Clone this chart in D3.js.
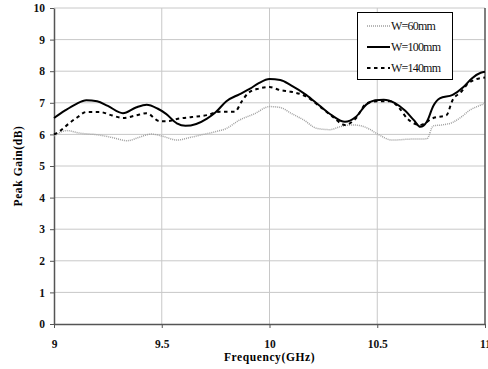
<!DOCTYPE html>
<html><head><meta charset="utf-8">
<script src="https://cdn.jsdelivr.net/npm/d3@7"></script>
<style>body{margin:0;background:#fff;} svg text{font-family:"Liberation Serif","Times New Roman","DejaVu Serif",serif !important;}</style>
</head><body><svg id="c" width="488" height="369"></svg>
<script>
const xTicks = [9, 9.5, 10, 10.5, 11];
const xTickLabels = ["9", "9.5", "10", "10.5", "11"];
const yTicks = [0,1,2,3,4,5,6,7,8,9,10];
const seriesNames = ["W=60mm", "W=100mm", "W=140mm"];
const w60 = [[9,5.95],[9.06,6.12],[9.12,6.04],[9.21,5.98],[9.27,5.9],[9.34,5.8],[9.40,5.92],[9.45,6.01],[9.51,5.93],[9.57,5.82],[9.63,5.9],[9.68,5.98],[9.74,6.07],[9.80,6.19],[9.86,6.45],[9.93,6.65],[10.0,6.88],[10.05,6.85],[10.1,6.67],[10.16,6.45],[10.22,6.19],[10.28,6.15],[10.33,6.25],[10.38,6.3],[10.42,6.28],[10.46,6.18],[10.5,6.02],[10.57,5.82],[10.65,5.85],[10.73,5.86],[10.76,6.27],[10.8,6.3],[10.85,6.38],[10.89,6.55],[10.93,6.77],[10.97,6.9],[11,6.98]];
const w100 = [[9,6.52],[9.05,6.75],[9.1,6.95],[9.15,7.08],[9.2,7.05],[9.25,6.9],[9.32,6.67],[9.38,6.85],[9.43,6.94],[9.48,6.82],[9.52,6.65],[9.57,6.35],[9.61,6.27],[9.66,6.33],[9.71,6.5],[9.75,6.7],[9.8,7.05],[9.86,7.27],[9.91,7.45],[9.95,7.62],[10.0,7.75],[10.05,7.72],[10.1,7.55],[10.17,7.25],[10.23,6.92],[10.29,6.6],[10.35,6.4],[10.4,6.55],[10.45,6.95],[10.49,7.08],[10.53,7.1],[10.58,7.0],[10.63,6.75],[10.67,6.45],[10.70,6.24],[10.73,6.4],[10.76,6.9],[10.79,7.14],[10.85,7.25],[10.9,7.5],[10.94,7.78],[10.98,7.95],[11,7.98]];
const w140 = [[9,6.0],[9.03,6.12],[9.07,6.35],[9.11,6.55],[9.15,6.71],[9.21,6.71],[9.27,6.6],[9.32,6.52],[9.38,6.6],[9.43,6.67],[9.49,6.42],[9.53,6.42],[9.57,6.49],[9.64,6.55],[9.71,6.61],[9.77,6.72],[9.84,6.72],[9.87,7.03],[9.9,7.3],[9.95,7.45],[10.0,7.5],[10.05,7.4],[10.1,7.35],[10.17,7.2],[10.23,6.9],[10.29,6.58],[10.35,6.3],[10.4,6.5],[10.45,6.98],[10.5,7.05],[10.56,7.05],[10.6,6.85],[10.64,6.5],[10.70,6.3],[10.76,6.52],[10.82,6.6],[10.85,7.09],[10.89,7.35],[10.92,7.6],[10.96,7.75],[11,7.8]];

const svg = d3.select("#c");
const L = 54, R = 485, T = 8, B = 324;
const x = d3.scaleLinear().domain([9, 11]).range([L, R]);
const y = d3.scaleLinear().domain([0, 10]).range([B, T]);

// grid
svg.append("g").selectAll("line").data(yTicks.filter(d=>d>0)).join("line")
  .attr("x1", L).attr("x2", R).attr("y1", d=>y(d)).attr("y2", d=>y(d))
  .attr("stroke", "#c8c8c8").attr("stroke-width", 1);
svg.append("g").selectAll("line").data(xTicks.slice(1,-1)).join("line")
  .attr("y1", T).attr("y2", B).attr("x1", d=>x(d)).attr("x2", d=>x(d))
  .attr("stroke", "#c8c8c8").attr("stroke-width", 1);
// right border
svg.append("line").attr("x1", R).attr("x2", R).attr("y1", T).attr("y2", B).attr("stroke", "#555").attr("stroke-width", 1.5);

// axes
const xAxis = d3.axisBottom(x).tickValues(xTicks).tickFormat((d,i)=>xTickLabels[i]).tickSize(4).tickSizeOuter(0);
const gx = svg.append("g").attr("transform", `translate(0,${B})`).call(xAxis);
gx.select(".domain").attr("stroke", "#555").attr("stroke-width", 1.5);
gx.selectAll(".tick line").attr("stroke", "#555");
gx.selectAll("text").attr("font-weight", "bold").attr("font-size", 11.5).attr("fill", "#111").attr("dy", "1.5em");

const yAxis = d3.axisLeft(y).tickValues(yTicks).tickSize(4).tickSizeOuter(0);
const gy = svg.append("g").attr("transform", `translate(${L},0)`).call(yAxis);
gy.select(".domain").attr("stroke", "#555").attr("stroke-width", 1.5);
gy.selectAll(".tick line").attr("stroke", "#555");
gy.selectAll("text").attr("font-weight", "bold").attr("font-size", 11.5).attr("fill", "#111").attr("x", -9);

// lines
const line = d3.line().x(d=>x(d[0])).y(d=>y(d[1])).curve(d3.curveMonotoneX);
const styles = [
  {data: w60, stroke: "#a0a0a0", width: 1.5, dash: "1,1"},
  {data: w100, stroke: "#000", width: 2, dash: null},
  {data: w140, stroke: "#000", width: 2, dash: "3.5,3.5"}
];
styles.forEach(s => {
  svg.append("path").datum(s.data).attr("d", line).attr("fill", "none")
    .attr("stroke", s.stroke).attr("stroke-width", s.width)
    .attr("stroke-dasharray", s.dash);
});

// legend
const lg = svg.append("g");
lg.append("rect").attr("x", 357.5).attr("y", 12.5).attr("width", 95).attr("height", 67)
  .attr("fill", "#fff").attr("stroke", "#000").attr("stroke-width", 1);
styles.forEach((s, i) => {
  const yy = [26, 47, 68][i];
  lg.append("line").attr("x1", 367).attr("x2", 390).attr("y1", yy).attr("y2", yy)
    .attr("stroke", s.stroke).attr("stroke-width", s.width).attr("stroke-dasharray", s.dash);
  lg.append("text").attr("x", 391).attr("y", yy + 4).text(seriesNames[i])
    .attr("font-size", 12).attr("letter-spacing", -0.8).attr("fill", "#111");
});

// titles
svg.append("text").attr("x", (L+R)/2).attr("y", 361).attr("text-anchor", "middle")
  .attr("font-weight", "bold").attr("font-size", 11.5).attr("letter-spacing", 0.6).text("Frequency(GHz)");
svg.append("text").attr("transform", `translate(22,${(T+B)/2}) rotate(-90)`).attr("text-anchor", "middle")
  .attr("font-weight", "bold").attr("font-size", 11.5).attr("letter-spacing", 0.6).text("Peak Gain(dB)");
</script></body></html>
